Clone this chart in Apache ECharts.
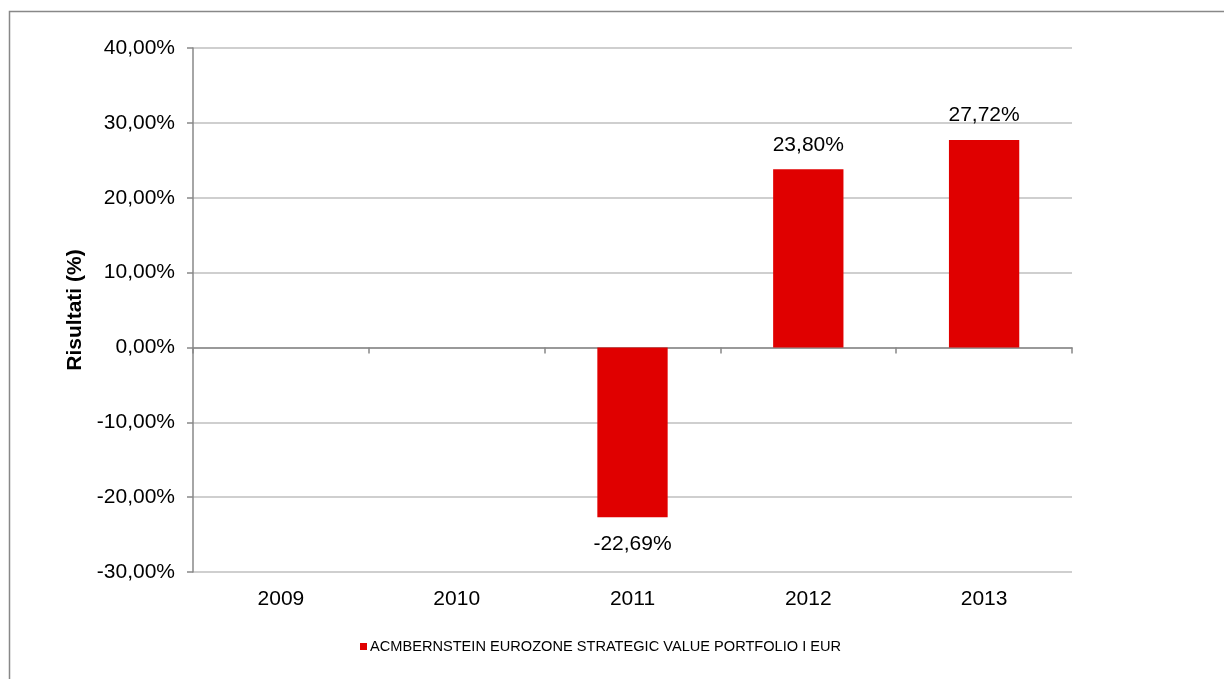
<!DOCTYPE html>
<html>
<head>
<meta charset="utf-8">
<script src="https://cdn.jsdelivr.net/npm/echarts@6/dist/echarts.min.js"></script>
<style>
html,body{margin:0;padding:0;background:#fff;}
#c{width:1224px;height:679px;}
</style>
</head>
<body>
<div id="c"></div>
<script>
const categories = ['2009', '2010', '2011', '2012', '2013'];
const values = [null, null, -22.69, 23.80, 27.72];
const seriesName = 'ACMBERNSTEIN EUROZONE STRATEGIC VALUE PORTFOLIO I EUR';
const yAxisName = 'Risultati (%)';

const fmt = v => v.toFixed(2).replace('.', ',') + '%';
const FONT = 'Liberation Sans, Arial, sans-serif';

const chart = echarts.init(document.getElementById('c'));
chart.setOption({
  animation: false,
  backgroundColor: '#fff',
  graphic: [{
    type: 'rect',
    shape: { x: 9.5, y: 11.5, width: 1400, height: 800 },
    style: { fill: 'none', stroke: '#888', lineWidth: 1.5 },
    silent: true
  }],
  grid: { left: 193, right: 152, top: 48, bottom: 107, containLabel: false },
  legend: {
    bottom: 20,
    left: 355,
    itemWidth: 7,
    itemHeight: 7,
    itemGap: 4,
    icon: 'rect',
    textStyle: { fontFamily: FONT, fontSize: 14.6, color: '#000', padding: [0, 0, 0, -2] },
    data: [seriesName]
  },
  xAxis: [{
    type: 'category',
    data: categories,
    axisLine: { onZero: true, lineStyle: { color: '#888', width: 1.5 } },
    axisTick: { show: true, length: 6, alignWithLabel: false, lineStyle: { color: '#888', width: 1.5 } },
    axisLabel: { show: false }
  }, {
    type: 'category', data: categories, position: 'bottom', offset: 0,
    axisLine: { show: false }, axisTick: { show: false },
    axisLabel: { fontFamily: FONT, fontSize: 21, color: '#000', margin: 17 }
  }],
  yAxis: {
    type: 'value',
    min: -30, max: 40, interval: 10,
    name: yAxisName,
    nameLocation: 'middle',
    nameGap: 105,
    nameTextStyle: { fontFamily: FONT, fontSize: 21, fontWeight: 'bold', color: '#000' },
    axisLine: { show: true, lineStyle: { color: '#888', width: 1.5 } },
    axisTick: { show: true, length: 6, lineStyle: { color: '#888', width: 1.5 } },
    axisLabel: { fontFamily: FONT, fontSize: 21, color: '#000', margin: 18, formatter: v => fmt(v) },
    splitLine: { show: true, lineStyle: { color: '#bfbfbf', width: 1.5 } }
  },
  series: [{
    name: seriesName,
    type: 'bar',
    xAxisIndex: 0,
    barWidth: '40%',
    itemStyle: { color: '#e00000' },
    data: values.map(v => v === null ? null : {
      value: v,
      label: { position: v < 0 ? 'bottom' : 'top', distance: v < 0 ? 16 : 14 }
    }),
    label: {
      show: true,
      fontFamily: FONT, fontSize: 21, color: '#000',
      formatter: p => fmt(p.value)
    }
  }]
});
</script>
</body>
</html>
